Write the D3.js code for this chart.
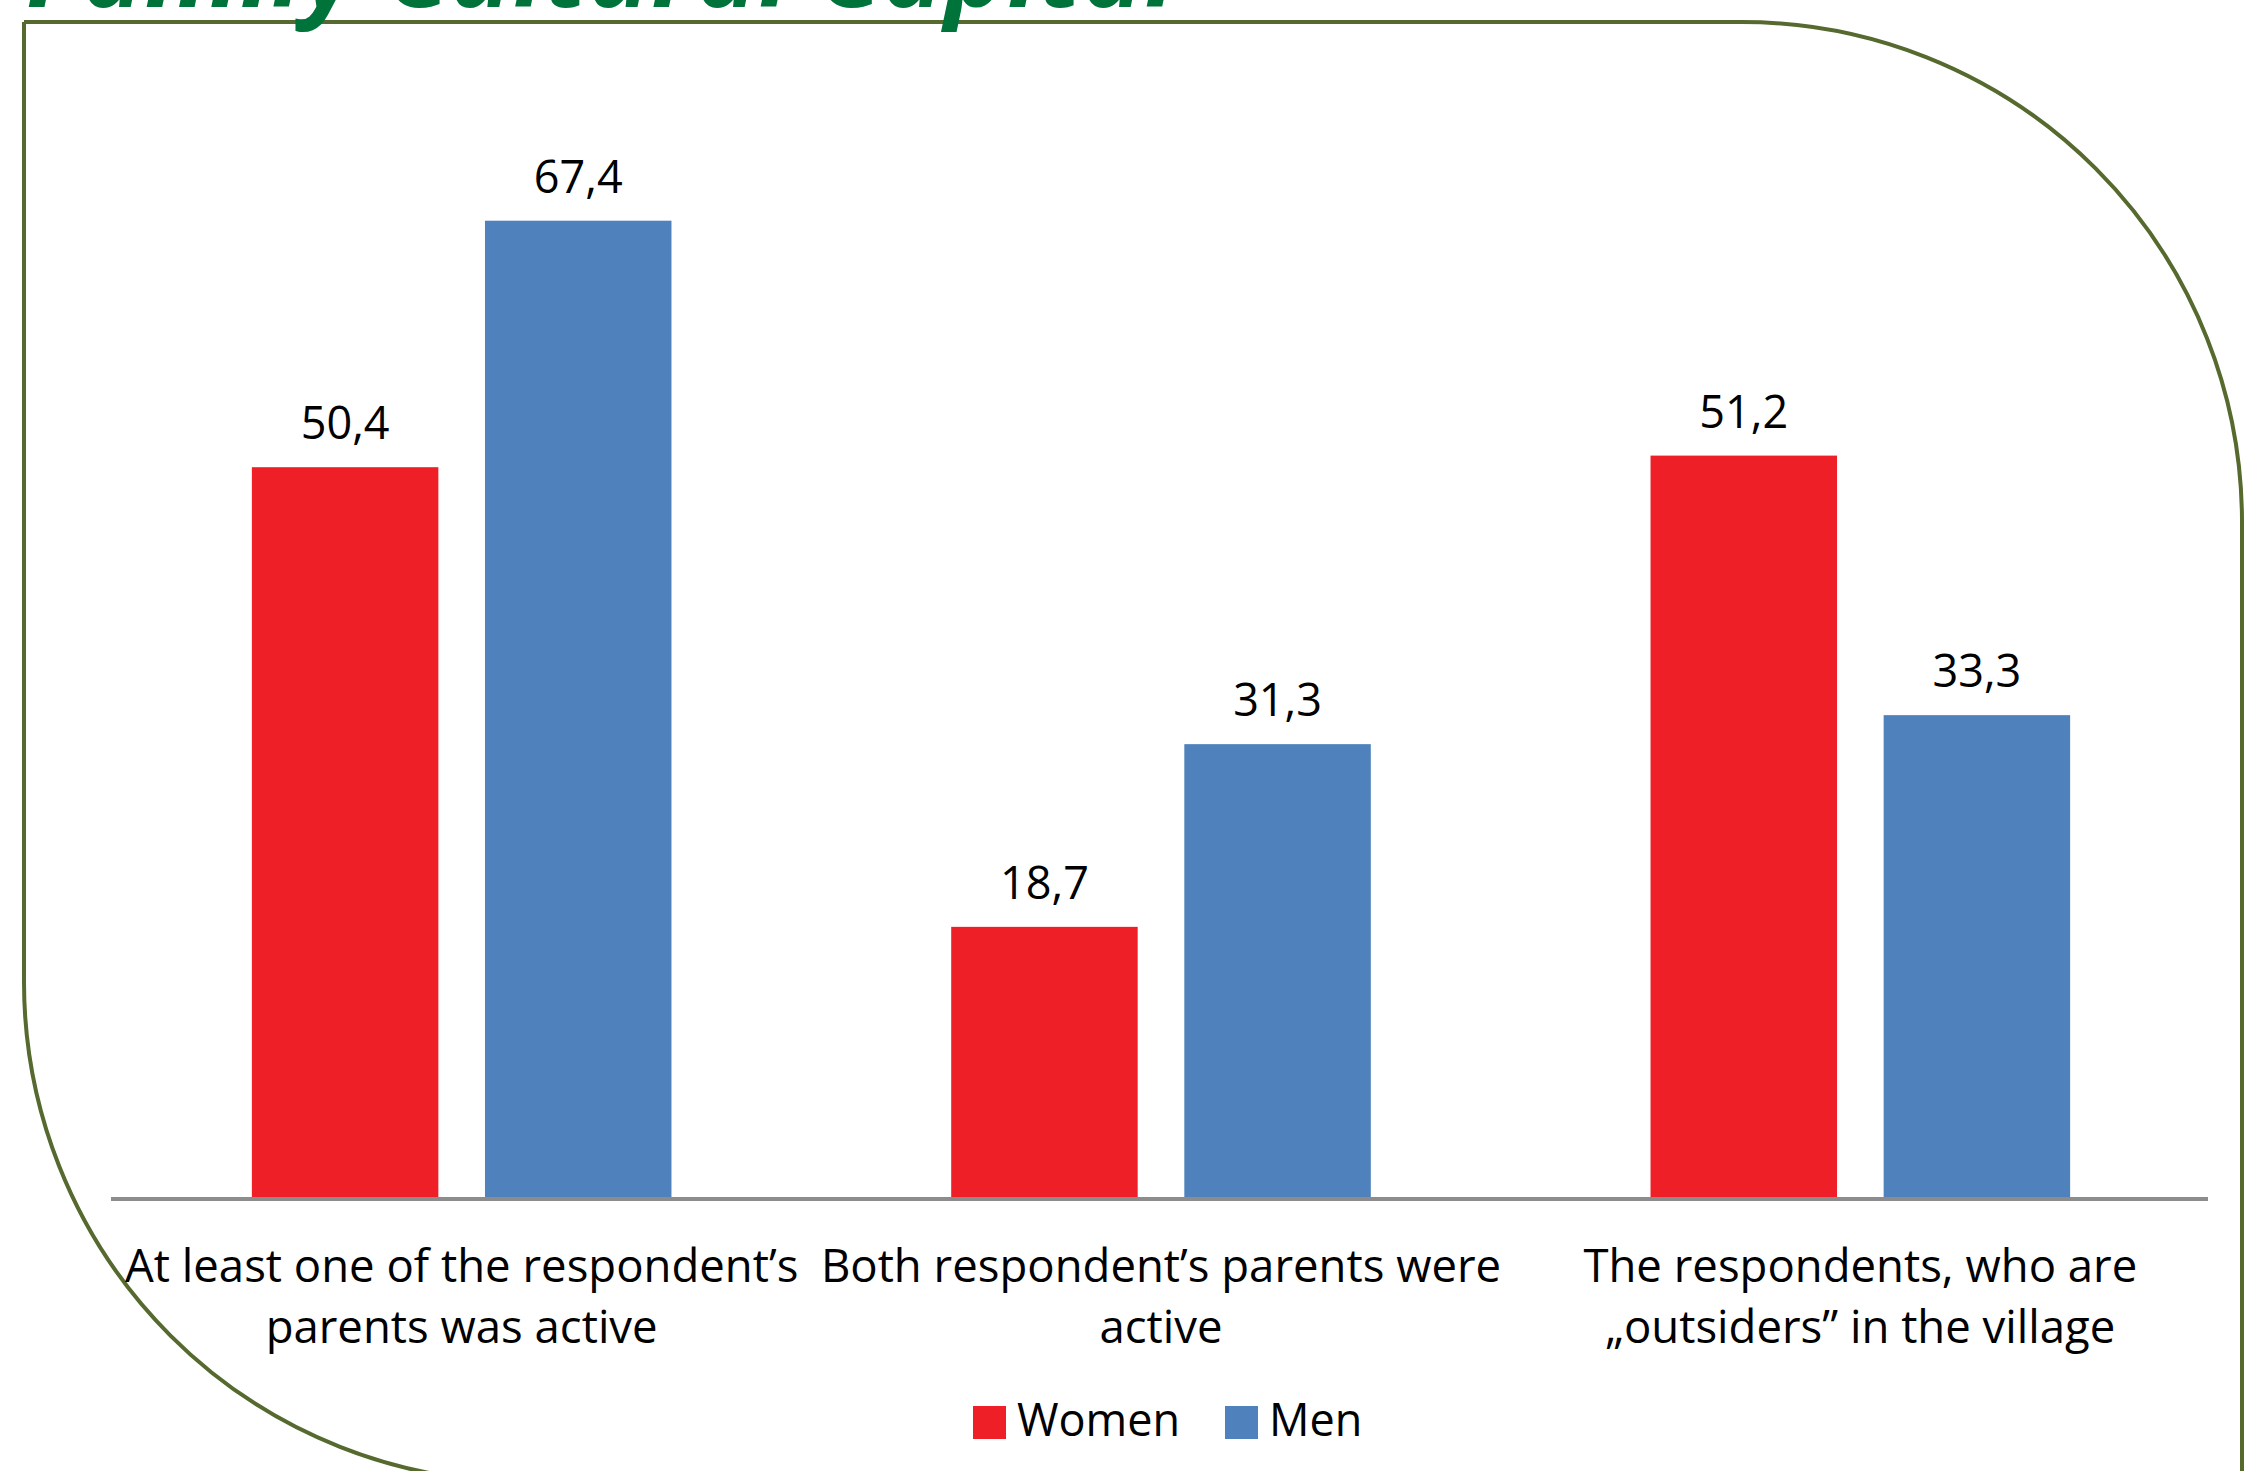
<!DOCTYPE html>
<html>
<head>
<meta charset="utf-8">
<script src="https://cdnjs.cloudflare.com/ajax/libs/d3/7.8.5/d3.min.js"></script>
<style>
  html, body { margin: 0; padding: 0; background: #ffffff; overflow: hidden; }
  svg { display: block; }
</style>
</head>
<body>
<svg id="chart" width="2244" height="1471"></svg>
<script>
// ---- data ----
const title = "Family Cultural Capital";
const categories = [
  ["At least one of the respondent’s", "parents was active"],
  ["Both respondent’s parents were", "active"],
  ["The respondents, who are", "„outsiders” in the village"]
];
const seriesNames = ["Women", "Men"];
const women = [50.4, 18.7, 51.2];
const men = [67.4, 31.3, 33.3];
const seriesColors = ["#EE1F26", "#4F81BD"];

// ---- setup ----
const W = 2244, H = 1471;
const svg = d3.select("#chart");
const FONT = "'Open Sans', 'Noto Sans', sans-serif";
const locale = d3.formatLocale({ decimal: ",", thousands: ".", grouping: [3], currency: ["", ""] });
const fmt = locale.format(".1f");

const catIdx = d3.range(categories.length);
const x0 = d3.scaleBand().domain(catIdx).range([112, 2210]).paddingInner(0).paddingOuter(0);
const x1 = d3.scaleBand().domain(seriesNames)
  .range([x0.bandwidth() * 0.2, x0.bandwidth() * 0.8])
  .paddingInner(0.2).paddingOuter(0);
const y = d3.scaleLinear().domain([0, 80]).range([1198, 38]);

// ---- frame (rounded diagonal corners) ----
const L = 24, T = 22, R = 2242, B = 1482, r = 500;
svg.append("path")
  .attr("d", `M${L},${T} H${R - r} A${r},${r} 0 0 1 ${R},${T + r} V${B + 50} M${L},${T} V${B - r} A${r},${r} 0 0 0 ${L + r},${B} H${R}`)
  .attr("fill", "none")
  .attr("stroke", "#56692E")
  .attr("stroke-width", 4);

// ---- title (cut off at the top, as in the source) ----
svg.append("text")
  .attr("x", 26)
  .attr("y", 7)
  .attr("font-family", FONT)
  .attr("font-style", "italic")
  .attr("font-weight", 700)
  .attr("font-size", 106)
  .attr("fill", "#00733A")
  .attr("textLength", 1150)
  .attr("lengthAdjust", "spacingAndGlyphs")
  .text(title);

// ---- bars ----
const rows = catIdx.map(i => ({ i, values: [ { key: "Women", v: women[i] }, { key: "Men", v: men[i] } ] }));
const groups = svg.append("g").selectAll("g")
  .data(rows).join("g")
  .attr("transform", d => `translate(${x0(d.i)},0)`);

groups.selectAll("rect")
  .data(d => d.values).join("rect")
  .attr("x", d => x1(d.key))
  .attr("y", d => y(d.v))
  .attr("width", x1.bandwidth())
  .attr("height", d => y(0) - y(d.v))
  .attr("fill", d => seriesColors[seriesNames.indexOf(d.key)]);

groups.selectAll("text.val")
  .data(d => d.values).join("text")
  .attr("class", "val")
  .attr("x", d => x1(d.key) + x1.bandwidth() / 2)
  .attr("y", d => y(d.v) - 28)
  .attr("text-anchor", "middle")
  .attr("font-family", FONT)
  .attr("font-size", 45)
  .attr("fill", "#000")
  .text(d => fmt(d.v));

// ---- x axis line ----
svg.append("line")
  .attr("x1", 111).attr("x2", 2208)
  .attr("y1", y(0) + 1).attr("y2", y(0) + 1)
  .attr("stroke", "#8C8C8C")
  .attr("stroke-width", 4);

// ---- category labels ----
const catG = svg.append("g");
catIdx.forEach(i => {
  const t = catG.append("text")
    .attr("text-anchor", "middle")
    .attr("font-family", FONT)
    .attr("font-size", 45.5)
    .attr("fill", "#000");
  categories[i].forEach((line, k) => {
    t.append("tspan")
      .attr("x", x0(i) + x0.bandwidth() / 2)
      .attr("y", 1282 + k * 61)
      .text(line);
  });
});

// ---- legend ----
const legend = svg.append("g");
const legendX = [973, 1225];
seriesNames.forEach((name, k) => {
  legend.append("rect")
    .attr("x", legendX[k]).attr("y", 1406)
    .attr("width", 33).attr("height", 33)
    .attr("fill", seriesColors[k]);
  legend.append("text")
    .attr("x", legendX[k] + 44).attr("y", 1436)
    .attr("font-family", FONT)
    .attr("font-size", 45)
    .attr("fill", "#000")
    .text(name);
});
</script>
</body>
</html>
